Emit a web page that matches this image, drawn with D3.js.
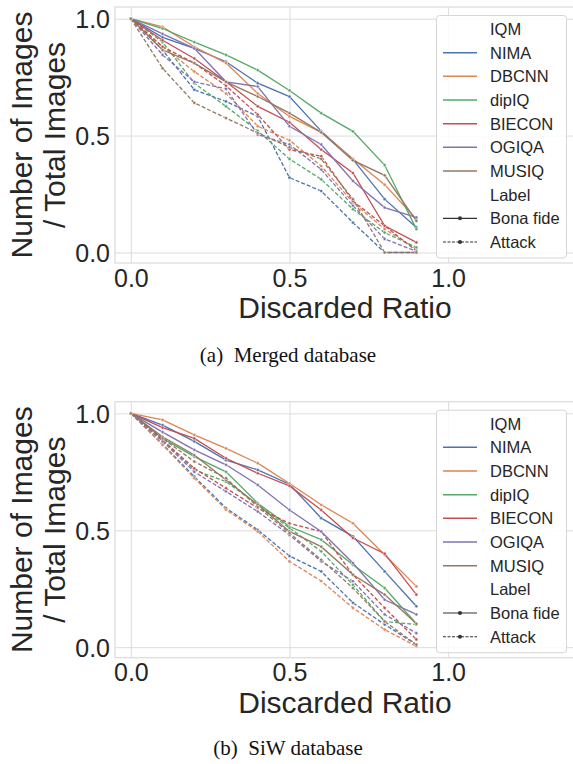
<!DOCTYPE html>
<html>
<head>
<meta charset="utf-8">
<script src="https://cdn.jsdelivr.net/npm/d3@7"></script>
<style>
  body { margin: 0; background: #fff; overflow: hidden; }
  svg { display: block; }
</style>
</head>
<body>
<svg id="chart" width="573" height="764"></svg>
<script>
// discarded ratio (x values)
var ratios = [0, 0.1, 0.2, 0.3, 0.4, 0.5, 0.6, 0.7, 0.8, 0.9];
var iqms = ['NIMA', 'DBCNN', 'dipIQ', 'BIECON', 'OGIQA', 'MUSIQ'];
var labels = ['Bona fide', 'Attack'];
var xTicks = [0, 0.5, 1.0];
var yTicks = [0, 0.5, 1.0];

// merged database, one row per IQM (same order as iqms)
var mergedBonafide = [
  [1, 0.92, 0.873, 0.816, 0.724, 0.667, 0.519, 0.398, 0.228, 0.107],
  [1, 0.965, 0.88, 0.81, 0.68, 0.582, 0.514, 0.401, 0.29, 0.143],
  [1, 0.958, 0.90, 0.845, 0.78, 0.693, 0.596, 0.518, 0.374, 0.10],
  [1, 0.908, 0.83, 0.73, 0.625, 0.557, 0.44, 0.34, 0.114, 0.043],
  [1, 0.935, 0.873, 0.73, 0.71, 0.54, 0.462, 0.306, 0.192, 0.15],
  [1, 0.866, 0.81, 0.73, 0.667, 0.596, 0.514, 0.394, 0.33, 0.135]
];
var mergedAttack = [
  [1, 0.866, 0.696, 0.646, 0.582, 0.32, 0.263, 0.128, 0, 0],
  [1, 0.88, 0.774, 0.68, 0.54, 0.48, 0.37, 0.214, 0.10, 0.015],
  [1, 0.90, 0.724, 0.625, 0.52, 0.40, 0.313, 0.185, 0.085, 0.022],
  [1, 0.88, 0.81, 0.713, 0.59, 0.44, 0.412, 0.22, 0.114, 0.007],
  [1, 0.845, 0.73, 0.70, 0.504, 0.462, 0.355, 0.20, 0.058, 0.005],
  [1, 0.788, 0.64, 0.575, 0.511, 0.45, 0.40, 0.228, 0, 0]
];

// SiW database
var siwBonafide = [
  [1, 0.95, 0.88, 0.80, 0.758, 0.697, 0.552, 0.474, 0.324, 0.175],
  [1, 0.972, 0.908, 0.85, 0.787, 0.70, 0.609, 0.53, 0.395, 0.26],
  [1, 0.893, 0.815, 0.75, 0.616, 0.516, 0.46, 0.353, 0.253, 0.10],
  [1, 0.939, 0.893, 0.808, 0.744, 0.69, 0.587, 0.467, 0.40, 0.225],
  [1, 0.92, 0.844, 0.78, 0.694, 0.587, 0.495, 0.36, 0.203, 0.14],
  [1, 0.90, 0.822, 0.715, 0.61, 0.495, 0.43, 0.31, 0.225, 0.10]
];
var siwAttack = [
  [1, 0.868, 0.73, 0.595, 0.502, 0.39, 0.324, 0.19, 0.097, 0.011],
  [1, 0.865, 0.723, 0.588, 0.495, 0.367, 0.283, 0.168, 0.075, 0.004],
  [1, 0.886, 0.758, 0.708, 0.609, 0.51, 0.41, 0.267, 0.11, 0.097],
  [1, 0.886, 0.765, 0.68, 0.595, 0.53, 0.495, 0.31, 0.168, 0.033],
  [1, 0.88, 0.75, 0.666, 0.58, 0.48, 0.367, 0.282, 0.14, 0.06],
  [1, 0.893, 0.794, 0.723, 0.60, 0.488, 0.374, 0.253, 0.11, 0.011]
];

var palette = ['#4c72b0', '#dd8452', '#55a868', '#c44e52', '#8172b3', '#937860'];
var gridColor = '#dcdcdc';
var textColor = '#262626';
var sansFont = 'Arial, "Liberation Sans", sans-serif';

var svg = d3.select('#chart');
var color = d3.scaleOrdinal().domain(iqms).range(palette);

var drawPanel = function(top, bonafide, attack, caption, captionY) {

  var g = svg.append('g').attr('transform', 'translate(0,' + top + ')');
  var left = 115, right = 575, ptop = 7, pbottom = 263;

  var x = d3.scaleLinear().domain([-0.05, 1.4]).range([left, right]);
  var y = d3.scaleLinear().domain([-0.045, 1.05]).range([pbottom, ptop]);

  // grid + tick labels through d3 axes
  var xAxis = g.append('g')
      .attr('transform', 'translate(0,' + pbottom + ')')
      .call(d3.axisBottom(x).tickValues(xTicks).tickFormat(d3.format('.1f'))
        .tickSize(-(pbottom - ptop)).tickPadding(6));
  var yAxis = g.append('g')
      .attr('transform', 'translate(' + left + ',0)')
      .call(d3.axisLeft(y).tickValues(yTicks).tickFormat(d3.format('.1f'))
        .tickSize(-(right - left)).tickPadding(5));

  [xAxis, yAxis].forEach(function(a) {
    a.select('.domain').remove();
    a.selectAll('.tick line').attr('stroke', gridColor).attr('stroke-width', 1);
    a.selectAll('.tick text')
      .attr('fill', textColor)
      .style('font-family', sansFont)
      .style('font-size', '25px');
  });
  yAxis.selectAll('.tick text').attr('dy', '0.36em');
  xAxis.selectAll('.tick text').attr('dy', '0.71em');

  // frame
  g.append('rect')
    .attr('x', left).attr('y', ptop)
    .attr('width', right - left).attr('height', pbottom - ptop)
    .attr('fill', 'none').attr('stroke', gridColor).attr('stroke-width', 1.25);

  // lines
  var line = d3.line()
    .x(function(d, i) { return x(ratios[i]); })
    .y(function(d) { return y(d); });

  var series = [];
  iqms.forEach(function(name, k) {
    series.push({ iqm: name, label: labels[0], values: bonafide[k] });
    series.push({ iqm: name, label: labels[1], values: attack[k] });
  });

  var sg = g.selectAll('.series').data(series).enter().append('g').attr('class', 'series');

  sg.append('path')
    .attr('d', function(d) { return line(d.values); })
    .attr('fill', 'none')
    .attr('stroke', function(d) { return color(d.iqm); })
    .attr('stroke-width', 1.3)
    .attr('stroke-dasharray', function(d) { return d.label == 'Attack' ? '4,2' : null; });

  sg.selectAll('circle').data(function(d) {
      return d.values.map(function(v, i) { return { v: v, i: i, iqm: d.iqm }; });
    }).enter().append('circle')
    .attr('cx', function(d) { return x(ratios[d.i]); })
    .attr('cy', function(d) { return y(d.v); })
    .attr('r', 1.6)
    .attr('fill', function(d) { return color(d.iqm); })
    .attr('stroke', '#fff')
    .attr('stroke-width', 0.5);

  // axis titles
  g.append('text')
    .attr('x', (left + right) / 2).attr('y', 318)
    .attr('text-anchor', 'middle')
    .attr('fill', textColor)
    .style('font-family', sansFont).style('font-size', '30px')
    .text('Discarded Ratio');

  var yl = g.append('text')
    .attr('transform', 'translate(0,' + ((ptop + pbottom) / 2) + ') rotate(-90)')
    .attr('text-anchor', 'middle')
    .attr('fill', textColor)
    .style('font-family', sansFont).style('font-size', '30px');
  yl.append('tspan').attr('x', 0).attr('y', 31.5).text('Number of Images');
  yl.append('tspan').attr('x', 0).attr('y', 64.5).text('/ Total Images');

  // legend
  var lg = g.append('g');
  lg.append('rect')
    .attr('x', 436.5).attr('y', 15.5).attr('width', 130).attr('height', 242.5)
    .attr('rx', 3)
    .attr('fill', 'rgba(255,255,255,0.85)')
    .attr('stroke', '#d6d6d6').attr('stroke-width', 1);

  var entries = [{ text: 'IQM', title: true }];
  iqms.forEach(function(n) { entries.push({ text: n, iqm: n }); });
  entries.push({ text: 'Label', title: true });
  labels.forEach(function(l) { entries.push({ text: l, label: l }); });

  var ly = d3.scalePoint().domain(d3.range(entries.length)).range([29, 242]);

  var le = lg.selectAll('.entry').data(entries).enter().append('g')
    .attr('class', 'entry')
    .attr('transform', function(d, i) { return 'translate(0,' + ly(i) + ')'; });

  le.filter(function(d) { return !d.title; }).append('line')
    .attr('x1', 443).attr('x2', 477).attr('y1', 0).attr('y2', 0)
    .attr('stroke', function(d) { return d.iqm ? color(d.iqm) : '#333'; })
    .attr('stroke-width', function(d) { return d.iqm ? 1.5 : 1.1; })
    .attr('stroke-dasharray', function(d) { return d.label == 'Attack' ? '3,1.5' : null; });

  le.filter(function(d) { return d.label; }).append('circle')
    .attr('cx', 460).attr('cy', 0).attr('r', 2)
    .attr('fill', '#333');

  le.append('text')
    .attr('x', 490).attr('y', 6)
    .attr('fill', textColor)
    .style('font-family', sansFont).style('font-size', '16.5px')
    .text(function(d) { return d.text; });

  // caption
  g.append('text')
    .attr('x', 288).attr('y', captionY)
    .attr('text-anchor', 'middle')
    .attr('fill', '#111')
    .style('font-family', '"Liberation Serif", "Times New Roman", serif')
    .style('font-size', '21px')
    .attr('xml:space', 'preserve')
    .text(caption);
};

drawPanel(0, mergedBonafide, mergedAttack, '(a)  Merged database', 362);
drawPanel(394.7, siwBonafide, siwAttack, '(b)  SiW database', 360.3);
</script>
</body>
</html>
